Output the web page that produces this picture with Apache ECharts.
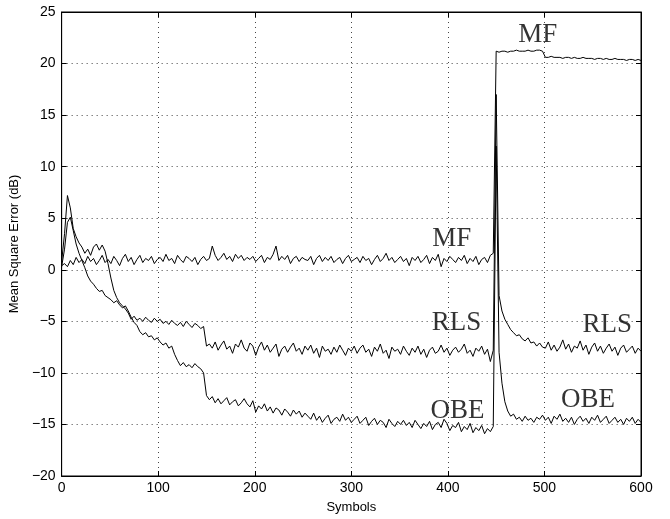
<!DOCTYPE html>
<html>
<head>
<meta charset="utf-8">
<script src="https://cdn.jsdelivr.net/npm/echarts@6/dist/echarts.min.js"></script>
<style>html,body{margin:0;padding:0;background:#fff}#c{width:670px;height:519px}</style>
</head>
<body>
<div id="c"></div>
<script>
// Symbol spacing of the sampled curves (one value every STEP symbols, starting at 0)
const STEP = 3;
const xTicks = [0, 100, 200, 300, 400, 500, 600];
const yTicks = [-20, -15, -10, -5, 0, 5, 10, 15, 20, 25];

const mf = [
  0.4, 0.6, 0.3, 0.9, 0.5, 1.2, 0.7, 1.0, 0.6, 1.3, 0.8, 1.1, 0.5, 0.9, 1.4, 0.7,
  1.0, 0.6, 1.3, 0.9, 0.4, 1.1, 1.5, 0.8, 1.2, 0.5, 1.0, 1.4, 0.7, 1.1, 0.9, 1.3, 0.6, 1.0,
  1.2, 0.8, 1.5, 0.9, 1.1, 0.6, 1.4, 1.0, 0.7, 1.3, 1.1, 0.8, 1.2, 0.5, 1.0, 1.3, 0.9,
  1.1, 2.3, 1.4, 0.9, 1.2, 1.6, 1.0, 1.3, 0.8, 1.5, 1.1, 1.4, 0.9, 1.2, 1.0, 1.3, 0.8,
  1.1, 1.4, 0.7, 1.2, 1.0, 1.5, 2.3, 0.9, 1.3, 1.0, 1.4, 0.6, 1.1, 1.3, 0.8, 1.2, 1.0,
  0.9, 1.3, 0.5, 1.1, 1.4, 0.8, 1.2, 0.9, 1.3, 0.7, 1.0, 1.2, 0.6, 1.1, 1.4, 0.8, 1.0,
  1.2, 0.7, 1.3, 0.9, 1.1, 0.5, 1.0, 1.4, 0.8, 1.1, 1.6, 0.9, 1.2, 0.7, 1.0, 1.3, 0.8,
  1.1, 0.4, 1.2, 0.9, 1.3, 0.7, 1.0, 1.4, 0.6, 1.2, 0.9, 1.5, 0.3, 1.1, 0.8, 1.3, 1.0,
  0.7, 1.2, 0.9, 1.4, 0.6, 1.1, 0.8, 1.3, 0.5, 1.0, 1.2, 0.7, 1.4, 1.6,
  21.2, 21.1, 21.2, 21.2, 21.1, 21.2, 21.2, 21.3, 21.2, 21.2, 21.2, 21.3, 21.2, 21.2, 21.3, 21.3, 21.2,
  20.6, 20.6, 20.7, 20.6, 20.6, 20.6, 20.5, 20.6, 20.6, 20.5, 20.6, 20.5, 20.5, 20.6, 20.5, 20.5, 20.5,
  20.4, 20.5, 20.5, 20.4, 20.5, 20.4, 20.4, 20.5, 20.4, 20.4, 20.4, 20.3, 20.4, 20.4, 20.3, 20.4, 20.3
];

const rls = [
  0.8, 3.5, 7.2, 6.0, 4.0, 3.2, 2.6, 2.2, 1.6, 2.0, 1.4, 2.2, 2.5, 1.9, 2.4, 1.8, 0.6,
  -0.8, -2.0, -2.7, -3.2, -3.5, -3.8, -4.2, -4.8, -4.5, -4.9, -4.7, -5.0, -4.6, -4.9, -5.1, -4.7, -5.0,
  -4.8, -5.2, -5.0, -5.3, -4.9, -5.2, -5.4, -5.1, -5.5, -5.0, -5.3, -5.6, -5.2, -5.4, -5.7, -5.5, -7.4,
  -7.2, -7.6, -7.0, -7.8, -7.3, -6.9, -7.7, -7.4, -8.1, -7.2, -7.5, -6.8, -7.6, -7.9, -7.1, -7.4, -8.3,
  -7.5, -7.0, -7.8, -7.3, -8.0, -7.6, -7.2, -8.4, -7.7, -7.4, -8.0, -7.5, -7.1, -7.9, -7.6, -8.2, -7.4,
  -7.8, -7.3, -8.1, -7.6, -8.5, -7.4, -7.9, -7.7, -8.2, -7.5, -8.0, -7.3, -7.8, -8.3, -7.6, -7.9, -7.4,
  -8.1, -7.6, -7.3, -8.0, -7.7, -8.4, -7.5, -7.9, -7.2, -8.1, -7.8, -8.6, -7.5, -7.9, -7.7, -8.2, -7.4,
  -7.9, -8.3, -7.6, -8.0, -7.4, -8.2, -7.7, -8.5, -7.8, -7.5, -8.1, -7.9, -7.3, -8.0, -7.6, -8.3, -7.8,
  -7.5, -8.0, -7.7, -7.2, -8.1, -7.8, -8.4, -7.6, -7.9, -7.4, -8.2, -7.7, -8.9, -7.8,
  17.0, -2.5, -4.0, -4.8, -5.3, -5.8, -6.1, -6.4, -6.3, -6.7, -6.9, -6.6, -7.1, -7.0, -7.4, -7.1, -7.5,
  -7.6, -7.0, -7.8, -7.3, -7.9, -7.5, -6.8, -7.7, -7.2, -8.0, -7.4, -7.6, -6.9, -7.8, -7.3, -8.2, -7.5,
  -7.1, -7.9, -7.4, -8.1, -7.6, -7.2, -7.9, -7.5, -8.3, -7.6, -7.3, -8.0, -7.7, -7.4, -8.1, -7.6, -7.9
];

const obe = [
  0.3, 2.0, 4.6, 5.1, 3.8, 2.5, 1.6, 0.9, 0.2, -0.6, -1.1, -1.4, -1.8, -2.1, -2.0, -2.5, -2.7,
  -2.9, -3.2, -3.0, -3.4, -3.7, -3.5, -4.0, -4.6, -5.1, -5.4, -6.0, -6.3, -6.1, -6.5, -6.4, -6.8, -6.6,
  -7.0, -7.3, -7.1, -7.6, -7.4, -8.2, -8.8, -9.3, -9.0, -9.4, -9.2, -9.5, -9.1, -9.4, -9.6, -10.0, -12.2,
  -12.6, -12.3, -12.9, -12.5, -13.0, -12.7, -12.4, -13.1, -12.8, -12.6, -13.2, -12.9, -12.5, -13.0, -13.3, -12.7, -13.8,
  -13.2, -13.5, -13.0, -13.7, -13.3, -13.9, -13.4, -13.6, -14.1, -13.5, -13.8, -14.2, -13.6, -14.0, -13.7, -14.3, -13.9,
  -14.2, -14.5, -13.9, -14.6, -14.2, -14.8, -14.4, -14.1, -14.9, -14.5, -14.3, -14.7, -14.0, -14.6, -14.3, -14.8, -14.5,
  -14.2, -14.9, -14.6, -14.3, -15.1, -14.7, -14.4, -15.0, -14.6, -14.8, -15.3, -14.5, -14.9, -15.2, -14.7, -15.0, -14.6,
  -15.1, -14.8, -15.3, -14.6, -15.0, -15.4, -14.9, -15.2, -14.7, -15.5, -15.0, -14.8, -15.3, -14.5, -14.9, -15.6, -15.1,
  -15.3, -14.8, -15.7, -15.2, -15.5, -14.9, -15.8, -15.3, -15.6, -15.1, -15.9, -15.4, -15.7, -15.2,
  12.0, -8.0, -11.0, -12.8, -13.7, -14.2, -14.0, -14.5, -14.3, -14.7, -14.2, -14.6, -14.4, -14.8, -14.3, -14.5, -14.1,
  -14.6, -14.3, -14.9, -14.2, -14.5, -14.0, -14.7, -14.4, -14.8, -14.3, -15.0, -14.5, -14.2, -14.7, -14.4, -14.9, -14.3,
  -14.6, -14.1, -14.8, -14.5, -14.2, -14.9, -14.6, -14.3, -14.8, -14.5, -15.0, -14.4, -14.7, -14.3, -14.9, -14.5, -14.8
];

// Curve annotations: [symbol, dB, text]
const annotations = [
  [493, 22.8, 'MF'],
  [404, 3.0, 'MF'],
  [409, -5.2, 'RLS'],
  [565, -5.3, 'RLS'],
  [410, -13.7, 'OBE'],
  [545, -12.6, 'OBE']
];

const toPairs = arr => arr.map((v, i) => [i * STEP, v]);

const chart = echarts.init(document.getElementById('c'), null, {renderer: 'canvas'});
const sansFont = '"Liberation Sans", Arial, Helvetica, sans-serif';
const fmtNum = v => String(v).replace('-', '\u2212');
const gridLine = {show: true, lineStyle: {color: '#444', type: [1, 4], width: 1}};

const lineSeries = (name, arr) => ({
  name, type: 'line', data: toPairs(arr), showSymbol: false, symbol: 'none',
  lineStyle: {color: '#000', width: 1}, animation: false, z: 3
});

chart.setOption({
  animation: false,
  backgroundColor: '#fff',
  grid: {left: 61, right: 29, top: 12, bottom: 40, show: true, borderColor: '#000', borderWidth: 1},
  xAxis: [{
    type: 'value', min: xTicks[0], max: xTicks[xTicks.length - 1], interval: 100,
    name: 'Symbols', nameLocation: 'middle', nameGap: 25,
    nameTextStyle: {fontFamily: sansFont, fontSize: 13, color: '#000'},
    axisLine: {show: true, onZero: false, lineStyle: {color: '#000', width: 1}},
    axisTick: {show: true, inside: true, length: 5, lineStyle: {color: '#000'}},
    axisLabel: {fontFamily: sansFont, fontSize: 14, color: '#000', margin: 5},
    splitLine: gridLine
  }, {
    type: 'value', position: 'top', min: xTicks[0], max: xTicks[xTicks.length - 1], interval: 100,
    axisLine: {show: true, onZero: false, lineStyle: {color: '#000'}},
    axisTick: {show: true, inside: true, length: 5, lineStyle: {color: '#000'}},
    axisLabel: {show: false}, splitLine: {show: false}
  }],
  yAxis: [{
    type: 'value', min: yTicks[0], max: yTicks[yTicks.length - 1], interval: 5,
    name: 'Mean Square Error (dB)', nameLocation: 'middle', nameGap: 38,
    nameTextStyle: {fontFamily: sansFont, fontSize: 13, color: '#000'},
    axisLine: {show: true, onZero: false, lineStyle: {color: '#000', width: 1}},
    axisTick: {show: true, inside: true, length: 5, lineStyle: {color: '#000'}},
    axisLabel: {fontFamily: sansFont, fontSize: 14, color: '#000', margin: 6, formatter: fmtNum},
    splitLine: gridLine
  }, {
    type: 'value', position: 'right', min: yTicks[0], max: yTicks[yTicks.length - 1], interval: 5,
    axisLine: {show: true, onZero: false, lineStyle: {color: '#000'}},
    axisTick: {show: true, inside: true, length: 5, lineStyle: {color: '#000'}},
    axisLabel: {show: false}, splitLine: {show: false}
  }],
  series: [
    lineSeries('MF', mf),
    lineSeries('RLS', rls),
    lineSeries('OBE', obe),
    {
      type: 'scatter', data: annotations, symbolSize: 0, silent: true, z: 5,
      label: {
        show: true, position: 'inside', formatter: p => p.data[2],
        fontFamily: '"Liberation Serif", "Times New Roman", serif', fontSize: 27, color: '#000'
      }
    }
  ]
});
</script>
</body>
</html>
